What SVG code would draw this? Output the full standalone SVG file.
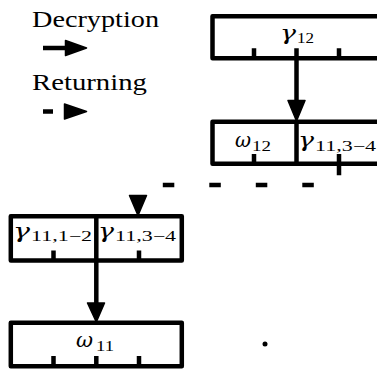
<svg xmlns="http://www.w3.org/2000/svg" width="377" height="369" viewBox="0 0 377 369">
<style>
.box{fill:none;stroke:#000;stroke-width:4.5;stroke-linejoin:round}
.ln{fill:none;stroke:#000;stroke-width:4.5}
.dash{fill:none;stroke:#000;stroke-width:4.5;stroke-dasharray:11.5 35}
.head{fill:#000;stroke:#000;stroke-width:1.5;stroke-linejoin:round}
.lg{font-family:"Liberation Serif","Times New Roman",serif;font-size:22.5px;fill:#000}
.m{font-family:"DejaVu Serif","Liberation Serif",serif;font-style:italic;font-size:21px;fill:#000}
.s{font-family:"Liberation Serif","Times New Roman",serif;font-size:14.5px;fill:#000}
</style>
<g id="legend">
  <text class="lg" x="32" y="27" textLength="127" lengthAdjust="spacingAndGlyphs">Decryption</text>
  <line class="ln" x1="43" y1="48" x2="68" y2="48"/>
  <polygon class="head" points="65.5,40.5 86.5,48 65.5,55.5"/>
  <text class="lg" x="32" y="90" textLength="115" lengthAdjust="spacingAndGlyphs">Returning</text>
  <line class="ln" x1="43" y1="111.5" x2="53" y2="111.5"/>
  <polygon class="head" points="64.5,104 86.5,111.5 64.5,119"/>
</g>
<g id="node-gamma12">
  <rect class="box" x="212.5" y="16.3" width="171" height="42"/>
  <path class="ln" d="M254,58.3V48.3M296.5,58.3V48.3M339,58.3V48.3"/>
  <text class="m" x="280" y="39.5" textLength="16" lengthAdjust="spacingAndGlyphs">γ</text>
  <text class="s" x="297" y="43.3" textLength="17" lengthAdjust="spacingAndGlyphs">12</text>
</g>
<g id="node-omega12-gamma11-34">
  <rect class="box" x="212.5" y="121.7" width="171" height="42"/>
  <path class="ln" d="M296.5,121.7V163.7M254,163.7V154M339,163.7V154"/>
  <text class="m" x="235" y="147" textLength="16" lengthAdjust="spacingAndGlyphs">ω</text>
  <text class="s" x="252" y="151" textLength="19" lengthAdjust="spacingAndGlyphs">12</text>
  <text class="m" x="298" y="147" textLength="16" lengthAdjust="spacingAndGlyphs">γ</text>
  <text class="s" x="315" y="151" textLength="61" lengthAdjust="spacingAndGlyphs">11,3−4</text>
</g>
<g id="node-gamma11">
  <rect class="box" x="10.8" y="216.2" width="171" height="44.3"/>
  <path class="ln" d="M96.3,216.2V260.5M53.5,260.5V250.5M139,260.5V250.5"/>
  <text class="m" x="13" y="237.5" textLength="17" lengthAdjust="spacingAndGlyphs">γ</text>
  <text class="s" x="31" y="241.3" textLength="61" lengthAdjust="spacingAndGlyphs">11,1−2</text>
  <text class="m" x="98" y="237.5" textLength="16" lengthAdjust="spacingAndGlyphs">γ</text>
  <text class="s" x="115" y="241.3" textLength="61" lengthAdjust="spacingAndGlyphs">11,3−4</text>
</g>
<g id="node-omega11">
  <rect class="box" x="10.8" y="322.8" width="171" height="43.4"/>
  <path class="ln" d="M53.5,366.2V356M96.3,366.2V356M139,366.2V356"/>
  <text class="m" x="76" y="346.7" textLength="17" lengthAdjust="spacingAndGlyphs">ω</text>
  <text class="s" x="96" y="351" textLength="18" lengthAdjust="spacingAndGlyphs">11</text>
</g>
<g id="connectors">
  <line class="ln" x1="296.5" y1="58.3" x2="296.5" y2="104"/>
  <polygon class="head" points="288,100.5 305,100.5 296.5,121"/>
  <path class="dash" d="M339,163.7V185H138V200"/>
  <polygon class="head" points="129.5,195.5 146.5,195.5 138,215.5"/>
  <line class="ln" x1="96.3" y1="260.5" x2="96.3" y2="306"/>
  <polygon class="head" points="87.5,303 104.5,303 96.3,322"/>
</g>
<circle cx="265" cy="344" r="2.5" fill="#000"/>
</svg>
